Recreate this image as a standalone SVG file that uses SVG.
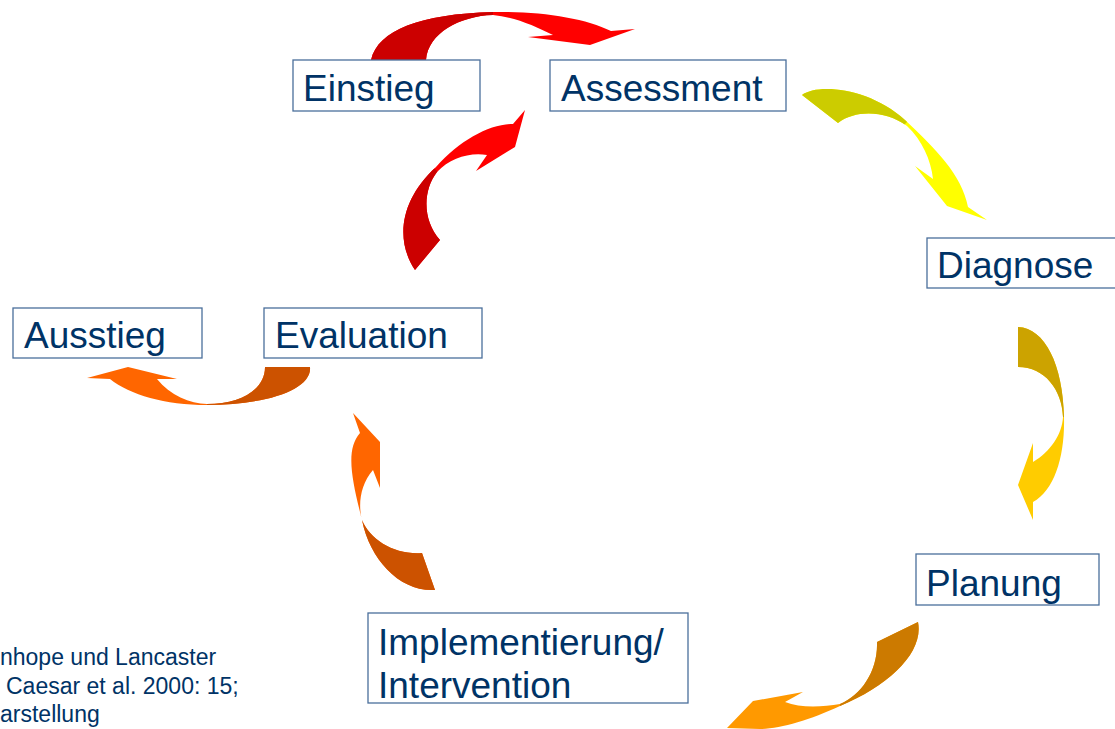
<svg xmlns="http://www.w3.org/2000/svg" width="1115" height="729" viewBox="0 0 1115 729">
<style>
.box{fill:#fff;stroke:#4a6f9b;stroke-width:1.3}
.lbl{font-family:"Liberation Sans",Arial,sans-serif;font-size:37px;fill:#003366}
.note{font-family:"Liberation Sans",Arial,sans-serif;font-size:23px;fill:#003366}
</style>
<defs>
<clipPath id="c1"><polygon points="0,0 493,0 493,80 0,80"/></clipPath>
<clipPath id="c2"><polygon points="700,0 1029,0 700,329"/></clipPath>
<clipPath id="c3"><polygon points="990,300 1100,300 1100,417 990,417"/></clipPath>
<clipPath id="c4"><polygon points="840,600 960,600 960,729 840,729"/></clipPath>
<clipPath id="c5"><polygon points="330,520 460,520 460,610 330,610"/></clipPath>
<clipPath id="c6"><polygon points="207,350 330,350 330,420 207,420"/></clipPath>
<clipPath id="c7"><polygon points="300,34 600,334 600,400 300,400"/></clipPath>
<path id="a1" d="M 371,60 C 378,30 420,14 493,12 C 540,11 585,18 611,31 L 635,29 L 590,45 L 528,37 L 553,35 C 535,26 515,17 493,15 C 460,16 428,33 426,60 Z"/>
<path id="a2" d="M 802,95 C 818,83 870,88 905,120 C 935,148 962,175 968,207 L 987,220 L 947,206 L 915,166 L 933,179 C 931,160 922,140 907,126 C 885,110 855,110 838,123 Z"/>
<path id="a3" d="M 1018,327 C 1045,328 1063,365 1064,417 C 1065,455 1055,490 1033,502 L 1033,520 L 1018,485 L 1033,443 L 1033,462 C 1050,452 1062,435 1063,417 C 1062,390 1045,367 1018,367 Z"/>
<path id="a4" d="M 918,622 C 924,652 890,685 840,706 C 810,720 780,729 760,729 L 727,728 L 753,701 L 803,692 L 785,702 C 800,708 822,707 840,704 C 862,695 878,670 877,642 Z"/>
<path id="a5" d="M 435,590 C 400,592 370,560 362,520 C 352,480 345,450 360,433 L 353,413 L 380,442 L 380,488 L 373,470 C 360,485 358,505 362,520 C 370,540 395,555 422,553 Z"/>
<path id="a6" d="M 310,367 C 312,390 265,405 207,405 C 165,405 130,395 110,379 L 87,378 L 128,367 L 177,379 L 157,379 C 170,395 190,404 207,404 C 240,404 265,390 265,367 Z"/>
<path id="a7" d="M 415,270 C 395,240 400,200 436,167 C 460,140 490,124 513,124 L 525,110 L 515,147 L 476,171 L 487,155 C 470,152 450,158 437,172 C 423,190 422,220 440,240 Z"/>
</defs>
<g id="connectors">
<use href="#a1" fill="#ff0000"/><use href="#a1" fill="#cc0000" clip-path="url(#c1)"/>
<use href="#a2" fill="#ffff00"/><use href="#a2" fill="#cccc00" clip-path="url(#c2)"/>
<use href="#a3" fill="#ffcc00"/><use href="#a3" fill="#cca300" clip-path="url(#c3)"/>
<use href="#a4" fill="#ff9900"/><use href="#a4" fill="#cc7a00" clip-path="url(#c4)"/>
<use href="#a5" fill="#ff6600"/><use href="#a5" fill="#cc5200" clip-path="url(#c5)"/>
<use href="#a6" fill="#ff6600"/><use href="#a6" fill="#cc5200" clip-path="url(#c6)"/>
<use href="#a7" fill="#ff0000"/><use href="#a7" fill="#cc0000" clip-path="url(#c7)"/>
</g>
<g id="einstieg"><rect class="box" x="293" y="60" width="187" height="51"/><text class="lbl" x="303" y="101">Einstieg</text></g>
<g id="assessment"><rect class="box" x="550" y="60" width="236" height="51"/><text class="lbl" x="561" y="101">Assessment</text></g>
<g id="diagnose"><rect class="box" x="927" y="238" width="200" height="50"/><text class="lbl" x="937" y="278">Diagnose</text></g>
<g id="planung"><rect class="box" x="916" y="554" width="183" height="51"/><text class="lbl" x="926" y="596">Planung</text></g>
<g id="implementierung"><rect class="box" x="368" y="613" width="320" height="90"/><text class="lbl" x="378" y="655">Implementierung/</text><text class="lbl" x="378" y="698">Intervention</text></g>
<g id="evaluation"><rect class="box" x="264" y="308" width="218" height="50"/><text class="lbl" x="275" y="348">Evaluation</text></g>
<g id="ausstieg"><rect class="box" x="13" y="308" width="189" height="50"/><text class="lbl" x="24" y="348">Ausstieg</text></g>
<g id="note"><text class="note" x="0" y="665">nhope und Lancaster</text><text class="note" x="6" y="694">Caesar et al. 2000: 15;</text><text class="note" x="0" y="722">arstellung</text></g>
</svg>
